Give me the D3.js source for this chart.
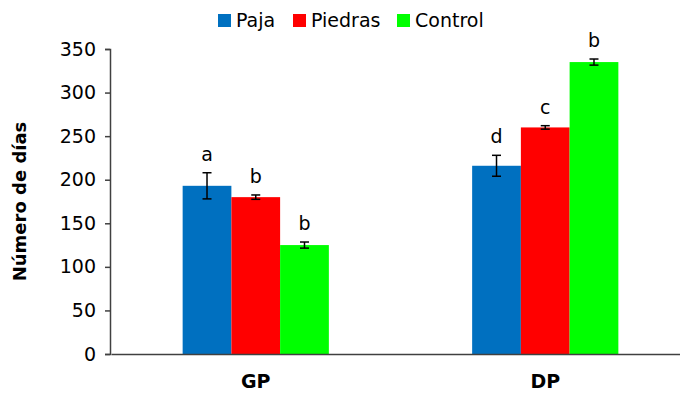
<!DOCTYPE html>
<html lang="es">
	<head>
		<meta charset="utf-8">
		<title>Número de días</title>
		<script type="text/javascript" src="https://cdn.jsdelivr.net/npm/d3@7"></script>
		<style type="text/css">
			body { margin: 0; background: #fff; }
			text { font-family: "DejaVu Sans", sans-serif; fill: #000; }
		</style>
	</head>
	<body>
		<script type="text/javascript">

			//Data
			var groups = ["GP", "DP"];
			var series = ["Paja", "Piedras", "Control"];
			var colors = ["#0070c0", "#ff0000", "#00ff00"];
			var paja = [193, 216];
			var piedras = [180, 260];
			var control = [125, 335];
			var pajaErr = [15, 12];
			var piedrasErr = [2.5, 2];
			var controlErr = [3.5, 3.5];
			var pajaLetters = ["a", "d"];
			var piedrasLetters = ["b", "c"];
			var controlLetters = ["b", "b"];
			var yTicks = [0, 50, 100, 150, 200, 250, 300, 350];

			var values = [paja, piedras, control];
			var errs = [pajaErr, piedrasErr, controlErr];
			var letters = [pajaLetters, piedrasLetters, controlLetters];

			//Width and height
			var w = 680;
			var h = 396;
			var plotLeft = 110, plotRight = 690, plotTop = 49, plotBottom = 354;

			var svg = d3.select("body")
						.append("svg")
						.attr("width", w)
						.attr("height", h);

			var xScale = d3.scaleBand()
							.domain(groups)
							.range([plotLeft + 1, plotRight]);

			// 3 bars touching each other, wide gap between groups
			var xInner = d3.scaleBand()
							.domain(series)
							.range([0, xScale.bandwidth()])
							.paddingInner(0)
							.paddingOuter(1.47);

			var yScale = d3.scaleLinear()
							.domain([0, 350])
							.range([plotBottom, plotTop]);

			// flatten into rows for drawing
			var rows = [];
			series.forEach(function(s, si) {
				groups.forEach(function(g, gi) {
					rows.push({ s: s, si: si, g: g, v: values[si][gi], e: errs[si][gi], l: letters[si][gi] });
				});
			});

			function cx(d) {
				return xScale(d.g) + xInner(d.s) + xInner.bandwidth() / 2;
			}

			//Bars
			svg.selectAll("rect.bar")
			   .data(rows)
			   .enter()
			   .append("rect")
			   .attr("class", "bar")
			   .attr("x", function(d) { return xScale(d.g) + xInner(d.s); })
			   .attr("y", function(d) { return yScale(d.v); })
			   .attr("width", xInner.bandwidth())
			   .attr("height", function(d) { return plotBottom - yScale(d.v); })
			   .attr("fill", function(d) { return colors[d.si]; });

			//Error bars
			var eb = svg.selectAll("g.err")
			   .data(rows)
			   .enter()
			   .append("g")
			   .attr("class", "err")
			   .attr("stroke", "#000")
			   .attr("stroke-width", 1.5);
			eb.append("line")
			   .attr("x1", cx)
			   .attr("x2", cx)
			   .attr("y1", function(d) { return yScale(d.v + d.e); })
			   .attr("y2", function(d) { return yScale(d.v - d.e); });
			[1, -1].forEach(function(sign) {
				eb.append("line")
				   .attr("x1", function(d) { return cx(d) - 4.5; })
				   .attr("x2", function(d) { return cx(d) + 4.5; })
				   .attr("y1", function(d) { return yScale(d.v + sign * d.e); })
				   .attr("y2", function(d) { return yScale(d.v + sign * d.e); });
			});

			//Letters
			svg.selectAll("text.letter")
			   .data(rows)
			   .enter()
			   .append("text")
			   .attr("class", "letter")
			   .text(function(d) { return d.l; })
			   .attr("text-anchor", "middle")
			   .attr("x", cx)
			   .attr("y", function(d) { return yScale(d.v + d.e) - 12; })
			   .attr("font-size", "19px");

			//Y axis
			var yAxis = d3.axisLeft(yScale)
							.tickValues(yTicks)
							.tickSize(5)
							.tickPadding(9);
			var gy = svg.append("g")
			   .attr("transform", "translate(" + plotLeft + ",0)")
			   .call(yAxis);
			gy.select(".domain").attr("stroke", "#404040").attr("stroke-width", 1.5);
			gy.selectAll(".tick line").attr("stroke", "#404040").attr("stroke-width", 1.5);
			gy.selectAll(".tick text")
			   .attr("font-size", "19px")
			   .attr("font-family", "DejaVu Sans, sans-serif")
			   .attr("fill", "#000");

			//X axis
			var xAxis = d3.axisBottom(xScale).tickSize(0).tickPadding(21);
			var gx = svg.append("g")
			   .attr("transform", "translate(0," + plotBottom + ")")
			   .call(xAxis);
			gx.select(".domain").attr("stroke", "#404040").attr("stroke-width", 1.5);
			gx.selectAll(".tick text")
			   .attr("font-size", "19px")
			   .attr("font-weight", "bold")
			   .attr("font-family", "DejaVu Sans, sans-serif")
			   .attr("fill", "#000");

			//Y title
			svg.append("text")
			   .text("Número de días")
			   .attr("transform", "translate(26," + (plotTop + plotBottom) / 2 + ") rotate(-90)")
			   .attr("text-anchor", "middle")
			   .attr("font-size", "18px")
			   .attr("font-weight", "bold");

			//Legend
			var legX = [218, 293, 397];
			var leg = svg.selectAll("g.leg")
			   .data(series)
			   .enter()
			   .append("g")
			   .attr("class", "leg")
			   .attr("transform", function(d, i) { return "translate(" + legX[i] + ",14)"; });
			leg.append("rect")
			   .attr("width", 13)
			   .attr("height", 13)
			   .attr("fill", function(d, i) { return colors[i]; });
			leg.append("text")
			   .text(function(d) { return d; })
			   .attr("x", 18)
			   .attr("y", 13)
			   .attr("font-size", "19px");

		</script>
	</body>
</html>
